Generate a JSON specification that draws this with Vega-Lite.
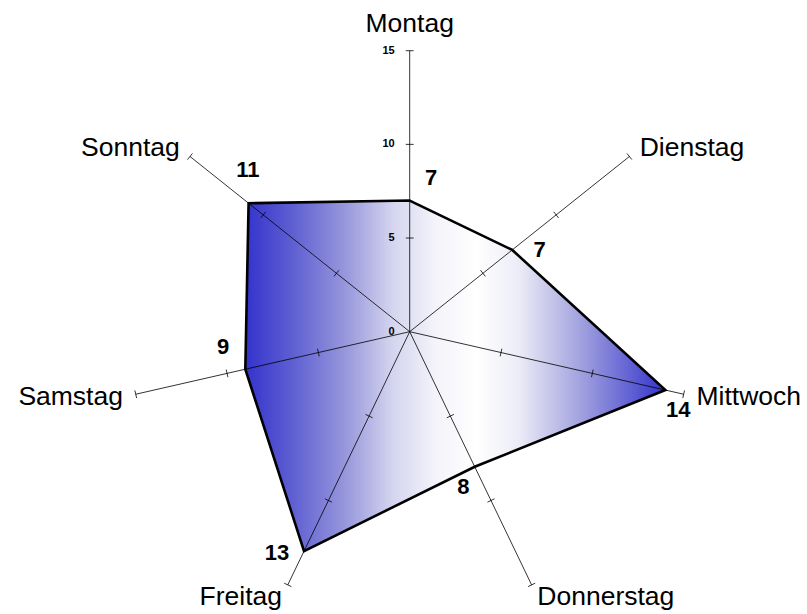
{
  "$schema": "https://vega.github.io/schema/vega-lite/v6.json",
  "width": 807,
  "height": 614,
  "autosize": {"type": "none"},
  "padding": 0,
  "background": "white",
  "config": {"view": {"stroke": null}, "text": {"font": "Liberation Sans"}},
  "datasets": {
    "days": [
      {"day": "Montag", "order": 0, "value": 7},
      {"day": "Dienstag", "order": 1, "value": 7},
      {"day": "Mittwoch", "order": 2, "value": 14},
      {"day": "Donnerstag", "order": 3, "value": 8},
      {"day": "Freitag", "order": 4, "value": 13},
      {"day": "Samstag", "order": 5, "value": 9},
      {"day": "Sonntag", "order": 6, "value": 11}
    ],
    "ticks": [
      {"order": 0, "r": 5}, {"order": 0, "r": 10}, {"order": 0, "r": 15},
      {"order": 1, "r": 5}, {"order": 1, "r": 10}, {"order": 1, "r": 15},
      {"order": 2, "r": 5}, {"order": 2, "r": 10}, {"order": 2, "r": 15},
      {"order": 3, "r": 5}, {"order": 3, "r": 10}, {"order": 3, "r": 15},
      {"order": 4, "r": 5}, {"order": 4, "r": 10}, {"order": 4, "r": 15},
      {"order": 5, "r": 5}, {"order": 5, "r": 10}, {"order": 5, "r": 15},
      {"order": 6, "r": 5}, {"order": 6, "r": 10}, {"order": 6, "r": 15}
    ],
    "scaleLabels": [{"r": 0}, {"r": 5}, {"r": 10}, {"r": 15}]
  },
  "layer": [
    {
      "data": {"name": "days"},
      "transform": [
        {"calculate": "PI/2 - datum.order*2*PI/7", "as": "theta"},
        {"calculate": "datum.value*cos(datum.theta)", "as": "px"},
        {"calculate": "datum.value*sin(datum.theta)", "as": "py"}
      ],
      "mark": {
        "type": "line",
        "interpolate": "linear-closed",
        "stroke": "black",
        "strokeWidth": 2.6,
        "strokeJoin": "miter",
        "fill": {
          "gradient": "linear",
          "x1": 0, "y1": 0, "x2": 1, "y2": 0,
          "stops": [
            {"offset": 0, "color": "#3333cc"},
            {"offset": 0.12, "color": "#6262d3"},
            {"offset": 0.24, "color": "#9898dc"},
            {"offset": 0.35, "color": "#d4d4ef"},
            {"offset": 0.45, "color": "#f3f3fa"},
            {"offset": 0.55, "color": "#ffffff"},
            {"offset": 0.65, "color": "#ececf7"},
            {"offset": 0.79, "color": "#a6a6e0"},
            {"offset": 0.9, "color": "#6a6ad5"},
            {"offset": 1, "color": "#3333cc"}
          ]
        }
      },
      "encoding": {
        "x": {"field": "px", "type": "quantitative", "scale": {"domain": [-21.87, 21.208], "nice": false, "zero": false}, "axis": null},
        "y": {"field": "py", "type": "quantitative", "scale": {"domain": [-15.069, 17.706], "nice": false, "zero": false}, "axis": null},
        "order": {"field": "order", "type": "quantitative"}
      }
    },
    {
      "data": {"name": "days"},
      "transform": [
        {"calculate": "PI/2 - datum.order*2*PI/7", "as": "theta"},
        {"calculate": "0", "as": "o"},
        {"calculate": "15*cos(datum.theta)", "as": "ax"},
        {"calculate": "15*sin(datum.theta)", "as": "ay"}
      ],
      "mark": {"type": "rule", "color": "black", "strokeWidth": 0.8},
      "encoding": {
        "x": {"field": "o", "type": "quantitative", "scale": {"domain": [-21.87, 21.208], "nice": false, "zero": false}, "axis": null},
        "y": {"field": "o", "type": "quantitative", "scale": {"domain": [-15.069, 17.706], "nice": false, "zero": false}, "axis": null},
        "x2": {"field": "ax"},
        "y2": {"field": "ay"}
      }
    },
    {
      "data": {"name": "ticks"},
      "transform": [
        {"calculate": "PI/2 - datum.order*2*PI/7", "as": "theta"},
        {"calculate": "datum.r*cos(datum.theta) + 0.21*sin(datum.theta)", "as": "tx1"},
        {"calculate": "datum.r*sin(datum.theta) - 0.21*cos(datum.theta)", "as": "ty1"},
        {"calculate": "datum.r*cos(datum.theta) - 0.21*sin(datum.theta)", "as": "tx2"},
        {"calculate": "datum.r*sin(datum.theta) + 0.21*cos(datum.theta)", "as": "ty2"}
      ],
      "mark": {"type": "rule", "color": "black", "strokeWidth": 0.8},
      "encoding": {
        "x": {"field": "tx1", "type": "quantitative", "scale": {"domain": [-21.87, 21.208], "nice": false, "zero": false}, "axis": null},
        "y": {"field": "ty1", "type": "quantitative", "scale": {"domain": [-15.069, 17.706], "nice": false, "zero": false}, "axis": null},
        "x2": {"field": "tx2"},
        "y2": {"field": "ty2"}
      }
    },
    {
      "data": {"name": "scaleLabels"},
      "transform": [{"calculate": "0", "as": "o"}],
      "mark": {"type": "text", "align": "right", "baseline": "middle", "dx": -15, "fontSize": 11, "fontWeight": "bold", "color": "black"},
      "encoding": {
        "x": {"field": "o", "type": "quantitative", "scale": {"domain": [-21.87, 21.208], "nice": false, "zero": false}, "axis": null},
        "y": {"field": "r", "type": "quantitative", "scale": {"domain": [-15.069, 17.706], "nice": false, "zero": false}, "axis": null},
        "text": {"field": "r", "type": "quantitative"}
      }
    },
    {
      "data": {"name": "days"},
      "transform": [
        {"calculate": "PI/2 - datum.order*2*PI/7", "as": "theta"},
        {"calculate": "(datum.value+0.96)*cos(datum.theta) + 1.14*sin(datum.theta)", "as": "lx"},
        {"calculate": "(datum.value+0.96)*sin(datum.theta) - 1.14*cos(datum.theta)", "as": "ly"}
      ],
      "mark": {"type": "text", "align": "center", "baseline": "middle", "dy": -5, "fontSize": 22, "fontWeight": "bold", "color": "black"},
      "encoding": {
        "x": {"field": "lx", "type": "quantitative", "scale": {"domain": [-21.87, 21.208], "nice": false, "zero": false}, "axis": null},
        "y": {"field": "ly", "type": "quantitative", "scale": {"domain": [-15.069, 17.706], "nice": false, "zero": false}, "axis": null},
        "text": {"field": "value", "type": "quantitative"}
      }
    },
    {
      "data": {"name": "days"},
      "transform": [
        {"filter": "datum.order == 0"},
        {"calculate": "PI/2 - datum.order*2*PI/7", "as": "theta"},
        {"calculate": "16*cos(datum.theta)", "as": "lx"},
        {"calculate": "16*sin(datum.theta)", "as": "ly"}
      ],
      "mark": {"type": "text", "align": "center", "baseline": "alphabetic", "fontSize": 26.5, "color": "black"},
      "encoding": {
        "x": {"field": "lx", "type": "quantitative", "scale": {"domain": [-21.87, 21.208], "nice": false, "zero": false}, "axis": null},
        "y": {"field": "ly", "type": "quantitative", "scale": {"domain": [-15.069, 17.706], "nice": false, "zero": false}, "axis": null},
        "text": {"field": "day", "type": "nominal"}
      }
    },
    {
      "data": {"name": "days"},
      "transform": [
        {"filter": "datum.order >= 1 && datum.order <= 3"},
        {"calculate": "PI/2 - datum.order*2*PI/7", "as": "theta"},
        {"calculate": "15.7*cos(datum.theta)", "as": "lx"},
        {"calculate": "15.7*sin(datum.theta)", "as": "ly"}
      ],
      "mark": {"type": "text", "align": "left", "baseline": "middle", "fontSize": 26.5, "color": "black"},
      "encoding": {
        "x": {"field": "lx", "type": "quantitative", "scale": {"domain": [-21.87, 21.208], "nice": false, "zero": false}, "axis": null},
        "y": {"field": "ly", "type": "quantitative", "scale": {"domain": [-15.069, 17.706], "nice": false, "zero": false}, "axis": null},
        "text": {"field": "day", "type": "nominal"}
      }
    },
    {
      "data": {"name": "days"},
      "transform": [
        {"filter": "datum.order >= 4"},
        {"calculate": "PI/2 - datum.order*2*PI/7", "as": "theta"},
        {"calculate": "15.7*cos(datum.theta)", "as": "lx"},
        {"calculate": "15.7*sin(datum.theta)", "as": "ly"}
      ],
      "mark": {"type": "text", "align": "right", "baseline": "middle", "fontSize": 26.5, "color": "black"},
      "encoding": {
        "x": {"field": "lx", "type": "quantitative", "scale": {"domain": [-21.87, 21.208], "nice": false, "zero": false}, "axis": null},
        "y": {"field": "ly", "type": "quantitative", "scale": {"domain": [-15.069, 17.706], "nice": false, "zero": false}, "axis": null},
        "text": {"field": "day", "type": "nominal"}
      }
    }
  ]
}
